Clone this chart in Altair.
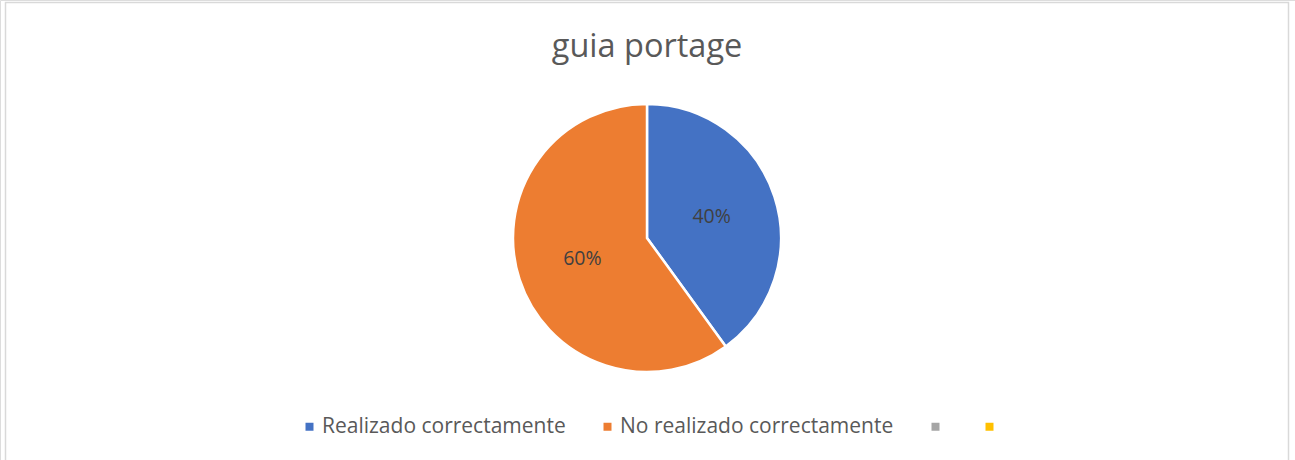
import altair as alt
import pandas as pd

categories = ["Realizado correctamente", "No realizado correctamente", "cat3", "cat4"]
values = [40, 60]
labels = ["40%", "60%"]
colors = ["#4472C4", "#ED7D31", "#A5A5A5", "#FFC000"]
title_text = "guia portage"

df = pd.DataFrame({"cat": categories[:2], "value": values, "label": labels, "order": [0, 1]})

W, H = 1295, 460
CX, CY = 647, 238
R = 134

color_scale = alt.Scale(domain=categories, range=colors)

base = alt.Chart(df).encode(
    theta=alt.Theta("value:Q", stack=True),
    order=alt.Order("order:Q"),
)

pie = base.mark_arc(outerRadius=R, stroke="white", strokeWidth=2.5).encode(
    x=alt.value(CX),
    y=alt.value(CY),
    color=alt.Color(
        "cat:N",
        scale=color_scale,
        sort=categories,
        legend=alt.Legend(
            title=None,
            orient="none",
            legendX=299,
            legendY=416,
            direction="horizontal",
            symbolType="square",
            symbolSize=64,
            symbolStrokeWidth=0,
            labelFont="Open Sans",
            labelFontSize=21,
            labelColor="#595959",
            labelOffset=2,
            columnPadding=31,
            labelLimit=400,
            labelExpr="(datum.label == 'cat3' || datum.label == 'cat4') ? '' : datum.label",
        ),
    ),
)

text = base.mark_text(radius=68, fontSize=19.5, font="Open Sans", color="#404040").encode(
    x=alt.value(CX),
    y=alt.value(CY),
    text="label:N",
)

title = alt.Chart(pd.DataFrame({"t": [title_text]})).mark_text(
    fontSize=32.5, font="Open Sans", color="#595959", baseline="middle", align="center"
).encode(x=alt.value(647), y=alt.value(47), text="t:N")

border = alt.Chart(pd.DataFrame({"a": [0]})).mark_rect(
    fill=None, stroke="#D9D9D9", strokeWidth=1.5
).encode(x=alt.value(5.5), x2=alt.value(1288.5), y=alt.value(2.5), y2=alt.value(500))

chart = alt.layer(border, pie, text, title).properties(
    width=W, height=H, autosize=alt.AutoSizeParams(type="none"), padding=0
).configure_view(stroke=None).configure(background="white")

chart.save("out.html", embed_options={"renderer": "svg", "actions": False})
